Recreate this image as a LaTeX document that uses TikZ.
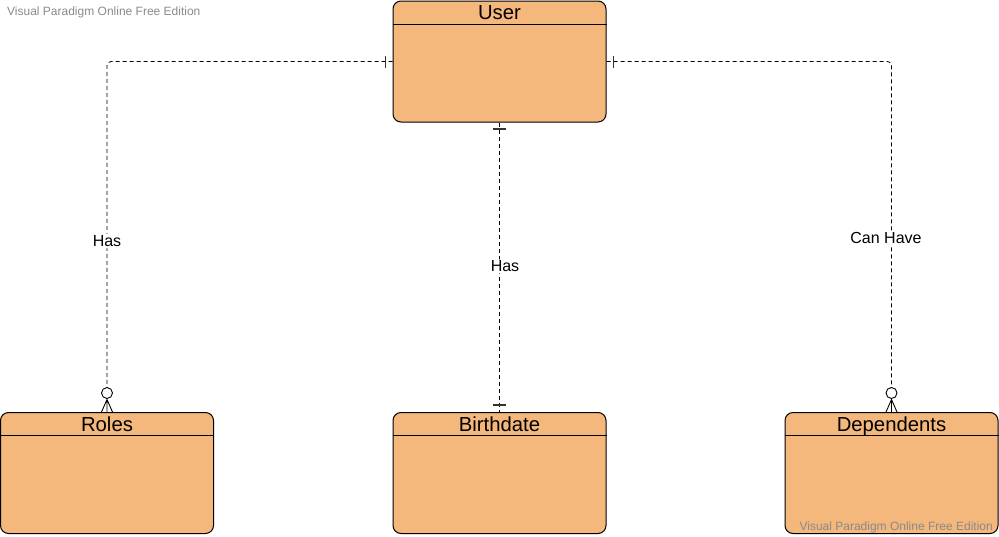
\documentclass[tikz,border=0pt]{standalone}
\usepackage{fontspec}
\setmainfont{Liberation Sans}
\usepackage{xcolor}
\definecolor{entityfill}{HTML}{F4B77C}
\definecolor{markgray}{HTML}{333333}
\definecolor{wmgray}{HTML}{8A8A8A}

\begin{document}
\begin{tikzpicture}[x=1pt, y=-1pt,
        entity/.style={draw, fill=entityfill, line width=1pt, rounded corners=8pt,
            minimum width=213pt, minimum height=121pt, inner sep=0pt},
        title/.style={anchor=north, inner sep=0pt, yshift=-4.5pt,
            font=\fontsize{20.3}{24}\selectfont},
        rel/.style={dashed, dash pattern=on 4pt off 3pt, line width=0.8pt,
            rounded corners=4pt},
        lbl/.style={fill=white, inner sep=1.5pt, font=\fontsize{16}{19}\selectfont},
        bar/.style={draw=markgray, line width=1.8pt},
        foot/.style={draw=black, line width=0.9pt},
        wm/.style={text=wmgray, inner sep=0pt, font=\fontsize{12}{14}\selectfont}]
        % \draw[style=help lines] (0, 0) grid[step=50] (999, 536);
        \useasboundingbox (0, 0) rectangle (999, 536);
        % entities
        \node[entity] (user) at (499.5, 61.5) {};
        \node[entity] (roles) at (107, 473) {};
        \node[entity] (birth) at (499.5, 473) {};
        \node[entity] (deps) at (891.5, 473) {};
        \foreach \e/\t in {user/User, roles/Roles, birth/Birthdate, deps/Dependents} {
            \node[title] (\e-title) at (\e.north) {\t};
            \draw[line width=1pt] ([yshift=-23.5pt]\e.north west) -- ([yshift=-23.5pt]\e.north east);
        }
        % relations
        \draw[rel, shorten >=24.5pt] (user.west) -| 
            node[lbl, pos=0.756] (has-roles) {Has} (roles.north);
        \draw[rel, shorten >=24.5pt] (user.east) -| 
            node[lbl, pos=0.752, xshift=-5.5pt] (has-deps) {Can Have} (deps.north);
        \draw[rel] (user.south) -- 
            node[lbl, pos=0.497, xshift=5.5pt] (has-birth) {Has} (birth.north);
        % one marks
        \draw[bar] ([xshift=-7pt]user.west) +(0, -6) -- +(0, 6);
        \draw[bar] ([xshift=7pt]user.east) +(0, -6) -- +(0, 6);
        \draw[bar] ([yshift=-6.5pt]user.south) +(-6.5, 0) -- +(6.5, 0);
        \draw[bar] ([yshift=7pt]birth.north) +(-6.5, 0) -- +(6.5, 0);
        % zero or many marks
        \foreach \e in {roles, deps} {
            \begin{scope}[shift={(\e.north)}]
                \draw[foot] (0, -19) circle[radius=5.5pt];
                \draw[foot] (-5.5, 0) -- (0, -12.5) -- (5.5, 0) (0, -12.5) -- (0, 0);
            \end{scope}
        }
        % watermarks
        \node[wm, anchor=west] (wm-top) at (7, 12) {Visual Paradigm Online Free Edition};
        \node[wm, anchor=east] (wm-bottom) at (993, 527) {Visual Paradigm Online Free Edition};
\end{tikzpicture}
\end{document}
